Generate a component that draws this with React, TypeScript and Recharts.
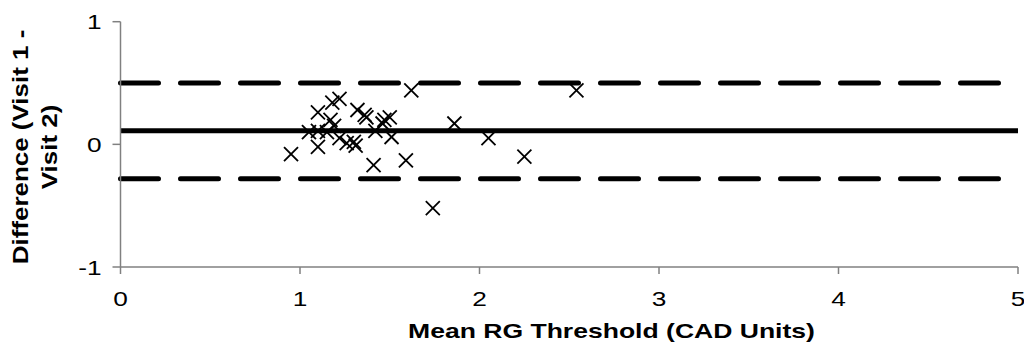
import React from "react";
import { ScatterChart, Scatter, XAxis, YAxis, ReferenceLine, Label } from "recharts";

const meanValues = [0.95, 1.1, 1.1, 1.05, 1.1, 1.17, 1.19, 1.15, 1.18, 1.22, 1.22, 1.26, 1.3, 1.31, 1.32, 1.36, 1.37, 1.41, 1.42, 1.46, 1.47, 1.5, 1.51, 1.59, 1.62, 1.86, 2.05, 2.25, 2.54, 1.74];
const diffValues = [-0.08, 0.26, -0.02, 0.1, 0.11, 0.2, 0.15, 0.1, 0.34, 0.37, 0.05, 0.01, 0.02, -0.01, 0.28, 0.24, 0.22, -0.17, 0.11, 0.17, 0.2, 0.22, 0.06, -0.13, 0.44, 0.17, 0.05, -0.1, 0.44, -0.52];
const meanDifference = 0.11;
const upperLimit = 0.5;
const lowerLimit = -0.28;
const xTicks = [0, 1, 2, 3, 4, 5];
const yTicks = [-1, 0, 1];

const points = meanValues.map((m, i) => ({ x: m, y: diffValues[i] }));

const FONT = "Liberation Sans, Arial, sans-serif";
const STRETCH = 1.25;

const Cross = (props: any) => {
  const { cx, cy } = props;
  const s = 7;
  return (
    <g>
      <line x1={cx - s} y1={cy - s} x2={cx + s} y2={cy + s} stroke="#000" strokeWidth={1.8} />
      <line x1={cx - s} y1={cy + s} x2={cx + s} y2={cy - s} stroke="#000" strokeWidth={1.8} />
    </g>
  );
};

const XTick = (props: any) => {
  const { x, y, payload } = props;
  return (
    <g transform={`translate(${x}, ${y}) scale(${STRETCH}, 1)`}>
      <text x={0} y={0} dy={15} textAnchor="middle" fontFamily={FONT} fontSize={21} fill="#000">
        {payload.value}
      </text>
    </g>
  );
};

const YTick = (props: any) => {
  const { x, y, payload } = props;
  return (
    <g transform={`translate(${x}, ${y}) scale(${STRETCH}, 1)`}>
      <text x={0} y={0} dy={7.5} textAnchor="end" fontFamily={FONT} fontSize={21} fill="#000">
        {payload.value}
      </text>
    </g>
  );
};

const YTitle = () => (
  <g fontFamily={FONT} fontWeight="bold" fontSize={22} fill="#000">
    <g transform="translate(20, 139) rotate(-90) scale(1.18, 1)">
      <text x={0} y={0} textAnchor="middle">Difference (Visit 1 -</text>
    </g>
    <g transform="translate(49, 139) rotate(-90) scale(1.18, 1)">
      <text x={0} y={0} textAnchor="middle">Visit 2)</text>
    </g>
  </g>
);

const XTitle = () => (
  <g transform="translate(603.5, 330) scale(1.264, 1)">
    <text x={0} y={0} textAnchor="middle" fontFamily={FONT} fontWeight="bold" fontSize={21} fill="#000">
      Mean RG Threshold (CAD Units)
    </text>
  </g>
);

export default function App() {
  return (
    <div style={{ width: 1024, height: 348, background: "#fff" }}>
      <ScatterChart width={1024} height={348} margin={{ top: 13.7, right: 14, bottom: 59, left: 52.5 }}>
        <XAxis
          type="number"
          dataKey="x"
          domain={[0, 5]}
          ticks={xTicks}
          axisLine={{ stroke: "#808080", strokeWidth: 1.5 }}
          tickLine={{ stroke: "#808080", strokeWidth: 1.5 }}
          tickSize={7}
          tickMargin={17}
          height={30}
          tick={<XTick />}
          allowDataOverflow
        >
          <Label content={<XTitle />} />
        </XAxis>
        <YAxis
          type="number"
          dataKey="y"
          domain={[-1, 1]}
          ticks={yTicks}
          width={60}
          axisLine={{ stroke: "#808080", strokeWidth: 1.5 }}
          tickLine={{ stroke: "#808080", strokeWidth: 1.5 }}
          tickSize={8}
          tickMargin={11}
          tick={<YTick />}
          allowDataOverflow
        >
          <Label content={<YTitle />} />
        </YAxis>
        <ReferenceLine y={upperLimit} stroke="#000" strokeWidth={5} strokeDasharray="38 22" strokeLinecap="round" />
        <ReferenceLine y={lowerLimit} stroke="#000" strokeWidth={5} strokeDasharray="38 22" strokeLinecap="round" />
        <ReferenceLine y={meanDifference} stroke="#000" strokeWidth={5} />
        <Scatter data={points} shape={<Cross />} isAnimationActive={false} />
      </ScatterChart>
    </div>
  );
}
